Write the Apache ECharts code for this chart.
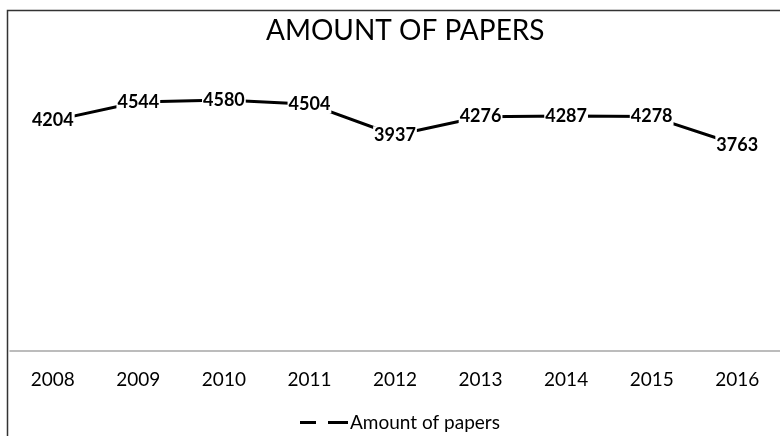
<!DOCTYPE html>
<html>
<head>
<meta charset="utf-8">
<script src="https://cdn.jsdelivr.net/npm/echarts@6/dist/echarts.min.js"></script>
<style>
    html, body {margin: 0; padding: 0; background: #fff; overflow: hidden;}
    #container {width: 780px; height: 436px;}
</style>
</head>
<body>
<div id="container"></div>
<script>
// 论文数量
let years = ['2008', '2009', '2010', '2011', '2012', '2013', '2014', '2015', '2016'];
let papers = [4204, 4544, 4580, 4504, 3937, 4276, 4287, 4278, 3763];
let seriesName = 'Amount of papers';

let dom = document.getElementById("container");
let myChart = echarts.init(dom);
let option = {
    backgroundColor: '#fff',
    title: {
        text: 'AMOUNT OF PAPERS',
        left: 261,
        top: 12,
        textStyle: {
            color: '#000',
            fontFamily: 'Lato',
            fontWeight: 'normal',
            fontSize: 28
        }
    },
    graphic: [
        {
            type: 'rect',
            shape: {x: 7.5, y: 10.5, width: 800, height: 500},
            style: {fill: 'none', stroke: '#333', lineWidth: 1.5},
            silent: true
        }
    ],
    legend: {
        bottom: -1,
        left: 295,
        data: [seriesName],
        icon: 'path://M0,0h16v3h-16z M28,0h20v3h-20z',
        itemWidth: 48,
        itemHeight: 3,
        itemGap: 0,
        textStyle: {
            color: '#000',
            fontFamily: 'Lato',
            fontSize: 19,
            padding: [0, 0, 0, -3]
        }
    },
    grid: {
        left: 10,
        right: -7,
        top: 77,
        bottom: 85
    },
    xAxis: {
        type: 'category',
        data: years,
        boundaryGap: true,
        axisLine: {lineStyle: {color: '#a6a6a6', width: 1.5}},
        axisTick: {show: false},
        axisLabel: {
            color: '#000',
            fontFamily: 'Lato',
            fontSize: 19,
            margin: 19
        }
    },
    yAxis: {
        type: 'value',
        min: 0,
        max: 5000,
        show: false,
        splitLine: {show: false}
    },
    series: [
        {
            name: seriesName,
            type: 'line',
            data: papers,
            symbol: 'circle',
            symbolSize: 0,
            showSymbol: true,
            lineStyle: {color: '#000', width: 3},
            itemStyle: {color: '#000'},
            label: {
                show: true,
                position: 'inside',
                color: '#000',
                fontFamily: 'Lato',
                fontWeight: 'bold',
                fontSize: 18,
                backgroundColor: '#fff',
                padding: [0, 1]
            }
        }
    ]
};
myChart.setOption(option, true);
window.onresize = function () {
    myChart.resize();
}
</script>
</body>
</html>
